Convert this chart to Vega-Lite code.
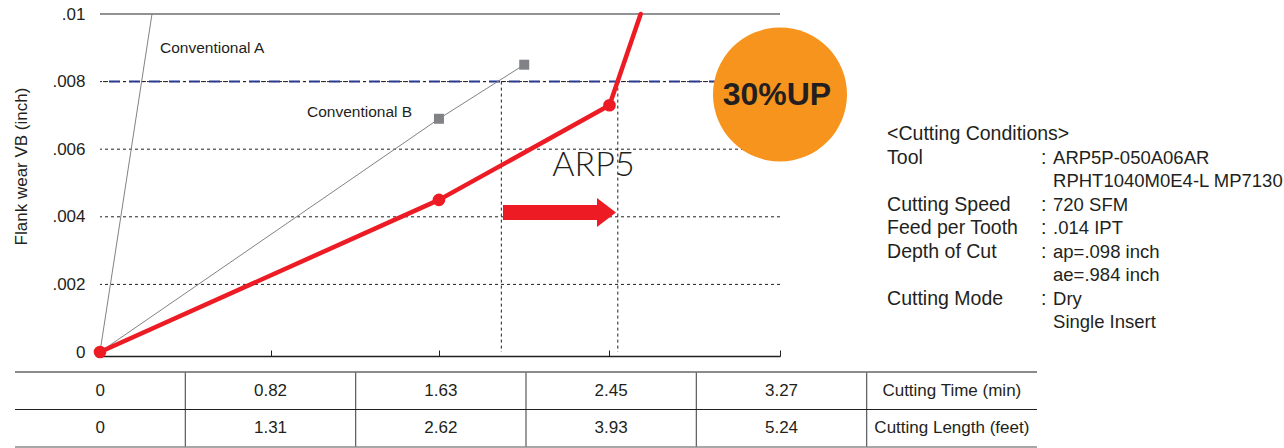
{
  "$schema": "https://vega.github.io/schema/vega-lite/v6.json",
  "width": 680,
  "height": 338,
  "autosize": {"type": "none"},
  "padding": {"left": 100, "top": 14, "right": 504, "bottom": 96},
  "background": "white",
  "config": {
    "view": {"stroke": null},
    "font": "Liberation Sans",
    "text": {"font": "Liberation Sans", "color": "#231f20"}
  },
  "datasets": {
    "wear": [
      {"tool": "Conventional A", "time": 0, "wear": 0, "point": "measured"},
      {"tool": "Conventional A", "time": 0.25, "wear": 0.01, "point": "chart edge"},
      {"tool": "Conventional B", "time": 0, "wear": 0, "point": "measured"},
      {"tool": "Conventional B", "time": 1.63, "wear": 0.0069, "point": "measured"},
      {"tool": "Conventional B", "time": 2.04, "wear": 0.0085, "point": "measured"},
      {"tool": "ARP5", "time": 0, "wear": 0, "point": "measured"},
      {"tool": "ARP5", "time": 1.63, "wear": 0.0045, "point": "measured"},
      {"tool": "ARP5", "time": 2.45, "wear": 0.0073, "point": "measured"},
      {"tool": "ARP5", "time": 2.6, "wear": 0.01, "point": "chart edge"}
    ],
    "levels": [{"wear": 0.002}, {"wear": 0.004}, {"wear": 0.006}, {"wear": 0.008}],
    "limit": [
      {"tool": "Conventional B", "time": 1.93, "wear": 0.008},
      {"tool": "ARP5", "time": 2.49, "wear": 0.008}
    ],
    "conditions": [
      {"line": 1, "label": "<Cutting Conditions>", "value": ""},
      {"line": 2, "label": "Tool", "value": "ARP5P-050A06AR"},
      {"line": 3, "label": "", "value": "RPHT1040M0E4-L MP7130"},
      {"line": 4, "label": "Cutting Speed", "value": "720 SFM"},
      {"line": 5, "label": "Feed per Tooth", "value": ".014 IPT"},
      {"line": 6, "label": "Depth of Cut", "value": "ap=.098 inch"},
      {"line": 7, "label": "", "value": "ae=.984 inch"},
      {"line": 8, "label": "Cutting Mode", "value": "Dry"},
      {"line": 9, "label": "", "value": "Single Insert"}
    ],
    "table": [
      {"measure": "Cutting Time (min)", "col": 0, "text": "0"},
      {"measure": "Cutting Time (min)", "col": 1, "text": "0.82"},
      {"measure": "Cutting Time (min)", "col": 2, "text": "1.63"},
      {"measure": "Cutting Time (min)", "col": 3, "text": "2.45"},
      {"measure": "Cutting Time (min)", "col": 4, "text": "3.27"},
      {"measure": "Cutting Time (min)", "col": 5, "text": "Cutting Time (min)"},
      {"measure": "Cutting Length (feet)", "col": 0, "text": "0"},
      {"measure": "Cutting Length (feet)", "col": 1, "text": "1.31"},
      {"measure": "Cutting Length (feet)", "col": 2, "text": "2.62"},
      {"measure": "Cutting Length (feet)", "col": 3, "text": "3.93"},
      {"measure": "Cutting Length (feet)", "col": 4, "text": "5.24"},
      {"measure": "Cutting Length (feet)", "col": 5, "text": "Cutting Length (feet)"}
    ]
  },
  "layer": [
    {
      "data": {"name": "levels"},
      "mark": {"type": "rule", "color": "#231f20", "strokeWidth": 1, "strokeDash": [3, 3]},
      "encoding": {
        "y": {"field": "wear", "type": "quantitative", "scale": {"domain": [0, 0.01], "nice": false, "zero": false},
          "axis": {
            "values": [0, 0.002, 0.004, 0.006, 0.008, 0.01],
            "labelExpr": "datum.value == 0 ? '0' : replace(format(datum.value, '.3~f'), '0.', '.')",
            "domain": false, "ticks": false, "grid": false,
            "labelPadding": 15, "labelFontSize": 17, "labelFont": "Liberation Sans", "labelColor": "#231f20",
            "labelFlush": false, "labelOverlap": false,
            "title": "Flank wear VB (inch)", "titleFontSize": 17, "titleFontWeight": "normal",
            "titleFont": "Liberation Sans", "titleColor": "#231f20", "titleAngle": -90,
            "titleX": -79, "titleY": 152, "titleAlign": "center", "titleBaseline": "middle"
          }
        }
      }
    },
    {
      "data": {"name": "limit"},
      "mark": {"type": "rule", "color": "#231f20", "strokeWidth": 1, "strokeDash": [3, 3]},
      "encoding": {
        "x": {"field": "time", "type": "quantitative", "scale": {"domain": [0, 3.27], "nice": false, "zero": false},
          "axis": {
            "values": [0.82, 1.63, 2.45, 3.27], "labels": false, "ticks": true, "tickSize": -6,
            "tickColor": "#231f20", "domainColor": "#231f20", "domainWidth": 1.5, "tickWidth": 1,
            "grid": false, "title": null, "offset": 4
          }
        },
        "y": {"field": "wear", "type": "quantitative", "axis": null, "scale": {"domain": [0, 0.01], "nice": false, "zero": false}},
        "y2": {"datum": 0}
      }
    },
    {
      "data": {"values": [{"wear": 0.008}]},
      "mark": {"type": "rule", "color": "#2b3990", "strokeWidth": 2, "strokeDash": [11, 9]},
      "encoding": {"y": {"field": "wear", "type": "quantitative", "axis": null, "scale": {"domain": [0, 0.01], "nice": false, "zero": false}}}
    },
    {
      "data": {"values": [{"wear": 0.008}]},
      "mark": {"type": "rule", "color": "#231f20", "strokeWidth": 1, "strokeDash": [3, 17], "strokeDashOffset": 6},
      "encoding": {"y": {"field": "wear", "type": "quantitative", "axis": null, "scale": {"domain": [0, 0.01], "nice": false, "zero": false}}}
    },
    {
      "data": {"values": [{"wear": 0.01}]},
      "mark": {"type": "rule", "color": "#6d6e71", "strokeWidth": 1.5},
      "encoding": {"y": {"field": "wear", "type": "quantitative", "axis": null, "scale": {"domain": [0, 0.01], "nice": false, "zero": false}}}
    },
    {
      "data": {"name": "wear"},
      "transform": [{"filter": "datum.tool != 'ARP5'"}],
      "mark": {"type": "line", "color": "#808285", "strokeWidth": 1},
      "encoding": {
        "x": {"field": "time", "type": "quantitative", "axis": null, "scale": {"domain": [0, 3.27], "nice": false, "zero": false}},
        "y": {"field": "wear", "type": "quantitative", "axis": null, "scale": {"domain": [0, 0.01], "nice": false, "zero": false}},
        "detail": {"field": "tool"}
      }
    },
    {
      "data": {"name": "wear"},
      "transform": [{"filter": "datum.tool == 'Conventional B' && datum.time > 0"}],
      "mark": {"type": "point", "shape": "square", "filled": true, "size": 100, "color": "#808285", "opacity": 1},
      "encoding": {
        "x": {"field": "time", "type": "quantitative", "axis": null, "scale": {"domain": [0, 3.27], "nice": false, "zero": false}},
        "y": {"field": "wear", "type": "quantitative", "axis": null, "scale": {"domain": [0, 0.01], "nice": false, "zero": false}}
      }
    },
    {
      "data": {"name": "wear"},
      "transform": [{"filter": "datum.tool == 'ARP5'"}],
      "mark": {"type": "line", "color": "#ed1c24", "strokeWidth": 4.5, "strokeJoin": "round", "strokeCap": "round"},
      "encoding": {
        "x": {"field": "time", "type": "quantitative", "axis": null, "scale": {"domain": [0, 3.27], "nice": false, "zero": false}},
        "y": {"field": "wear", "type": "quantitative", "axis": null, "scale": {"domain": [0, 0.01], "nice": false, "zero": false}}
      }
    },
    {
      "data": {"name": "wear"},
      "transform": [{"filter": "datum.tool == 'ARP5' && datum.point == 'measured'"}],
      "mark": {"type": "point", "shape": "circle", "filled": true, "size": 160, "color": "#ed1c24", "opacity": 1},
      "encoding": {
        "x": {"field": "time", "type": "quantitative", "axis": null, "scale": {"domain": [0, 3.27], "nice": false, "zero": false}},
        "y": {"field": "wear", "type": "quantitative", "axis": null, "scale": {"domain": [0, 0.01], "nice": false, "zero": false}}
      }
    },
    {
      "data": {"values": [{}]},
      "mark": {"type": "text", "text": "Conventional A", "align": "left", "baseline": "middle", "fontSize": 15.5},
      "encoding": {
        "x": {"datum": 0.2885, "type": "quantitative", "axis": null, "scale": {"domain": [0, 3.27], "nice": false, "zero": false}},
        "y": {"datum": 0.00899, "type": "quantitative", "axis": null, "scale": {"domain": [0, 0.01], "nice": false, "zero": false}}
      }
    },
    {
      "data": {"values": [{}]},
      "mark": {"type": "text", "text": "Conventional B", "align": "left", "baseline": "middle", "fontSize": 15.5},
      "encoding": {
        "x": {"datum": 0.9954, "type": "quantitative", "axis": null, "scale": {"domain": [0, 3.27], "nice": false, "zero": false}},
        "y": {"datum": 0.0071, "type": "quantitative", "axis": null, "scale": {"domain": [0, 0.01], "nice": false, "zero": false}}
      }
    },
    {
      "data": {"values": [{}]},
      "mark": {"type": "point", "shape": "circle", "filled": true, "size": 17956, "color": "#f7941d", "opacity": 1},
      "encoding": {
        "x": {"datum": 3.27, "type": "quantitative", "axis": null, "scale": {"domain": [0, 3.27], "nice": false, "zero": false}},
        "y": {"datum": 0.00762, "type": "quantitative", "axis": null, "scale": {"domain": [0, 0.01], "nice": false, "zero": false}}
      }
    },
    {
      "data": {"values": [{}]},
      "mark": {"type": "text", "text": "30%UP", "align": "center", "baseline": "middle", "fontSize": 32, "fontWeight": "bold", "color": "#231f20"},
      "encoding": {
        "x": {"datum": 3.255, "type": "quantitative", "axis": null, "scale": {"domain": [0, 3.27], "nice": false, "zero": false}},
        "y": {"datum": 0.0076, "type": "quantitative", "axis": null, "scale": {"domain": [0, 0.01], "nice": false, "zero": false}}
      }
    },
    {
      "data": {"values": [{}]},
      "mark": {"type": "text", "text": "ARP5", "align": "center", "baseline": "middle", "fontSize": 34, "font": "Lato", "fontWeight": 300, "color": "#231f20"},
      "encoding": {
        "x": {"datum": 2.373, "type": "quantitative", "axis": null, "scale": {"domain": [0, 3.27], "nice": false, "zero": false}},
        "y": {"datum": 0.0055, "type": "quantitative", "axis": null, "scale": {"domain": [0, 0.01], "nice": false, "zero": false}}
      }
    },
    {
      "data": {"values": [{}]},
      "mark": {"type": "point", "shape": "M-1,-0.133L0.664,-0.133L0.664,-0.257L1,0L0.664,0.257L0.664,0.133L-1,0.133Z", "filled": true, "size": 12769, "color": "#ed1c24", "opacity": 1, "strokeWidth": 0},
      "encoding": {
        "x": {"datum": 2.2096, "type": "quantitative", "axis": null, "scale": {"domain": [0, 3.27], "nice": false, "zero": false}},
        "y": {"datum": 0.004127, "type": "quantitative", "axis": null, "scale": {"domain": [0, 0.01], "nice": false, "zero": false}}
      }
    },
    {
      "data": {"name": "conditions"},
      "transform": [{"filter": "datum.label != ''"}],
      "mark": {"type": "text", "align": "left", "baseline": "middle", "fontSize": 19.5},
      "encoding": {
        "x": {"datum": 3.785, "type": "quantitative", "axis": null, "scale": {"domain": [0, 3.27], "nice": false, "zero": false}},
        "y": {"field": "line", "type": "ordinal", "axis": null, "scale": {"type": "point", "domain": [1, 2, 3, 4, 5, 6, 7, 8, 9], "range": [120, 308], "padding": 0}},
        "text": {"field": "label"}
      }
    },
    {
      "data": {"name": "conditions"},
      "transform": [{"filter": "datum.label != '' && datum.value != ''"}],
      "mark": {"type": "text", "align": "left", "baseline": "middle", "fontSize": 19.5, "text": ":"},
      "encoding": {
        "x": {"datum": 4.525, "type": "quantitative", "axis": null, "scale": {"domain": [0, 3.27], "nice": false, "zero": false}},
        "y": {"field": "line", "type": "ordinal", "axis": null, "scale": {"type": "point", "domain": [1, 2, 3, 4, 5, 6, 7, 8, 9], "range": [120, 308], "padding": 0}}
      }
    },
    {
      "data": {"name": "conditions"},
      "transform": [{"filter": "datum.value != ''"}],
      "mark": {"type": "text", "align": "left", "baseline": "middle", "fontSize": 18.5},
      "encoding": {
        "x": {"datum": 4.583, "type": "quantitative", "axis": null, "scale": {"domain": [0, 3.27], "nice": false, "zero": false}},
        "y": {"field": "line", "type": "ordinal", "axis": null, "scale": {"type": "point", "domain": [1, 2, 3, 4, 5, 6, 7, 8, 9], "range": [120, 308], "padding": 0}},
        "text": {"field": "value"}
      }
    },
    {
      "data": {"name": "table"},
      "transform": [{"filter": "datum.measure == 'Cutting Time (min)' && datum.col < 5"}],
      "mark": {"type": "rule", "color": "#58595b", "strokeWidth": 1.2},
      "encoding": {
        "x": {"field": "col", "type": "ordinal", "bandPosition": 1, "axis": null,
          "scale": {"type": "band", "domain": [0, 1, 2, 3, 4, 5], "range": [-85, 937], "paddingInner": 0, "paddingOuter": 0}},
        "y": {"datum": "Cutting Time (min)", "type": "nominal", "bandPosition": 0, "axis": null,
          "scale": {"type": "band", "domain": ["Cutting Time (min)", "Cutting Length (feet)"], "range": [358, 433], "paddingInner": 0, "paddingOuter": 0}},
        "y2": {"datum": "Cutting Length (feet)", "bandPosition": 1}
      }
    },
    {
      "data": {"name": "table"},
      "transform": [{"filter": "datum.col == 5"}],
      "mark": {"type": "rule", "color": "#231f20", "strokeWidth": 1},
      "encoding": {
        "y": {"field": "measure", "type": "nominal", "bandPosition": 0, "axis": null,
          "scale": {"type": "band", "domain": ["Cutting Time (min)", "Cutting Length (feet)"], "range": [358, 433], "paddingInner": 0, "paddingOuter": 0}},
        "x": {"datum": 0, "type": "ordinal", "bandPosition": 0, "axis": null,
          "scale": {"type": "band", "domain": [0, 1, 2, 3, 4, 5], "range": [-85, 937], "paddingInner": 0, "paddingOuter": 0}},
        "x2": {"datum": 5, "bandPosition": 1}
      }
    },
    {
      "data": {"name": "table"},
      "transform": [{"filter": "datum.measure == 'Cutting Time (min)' && datum.col == 5"}],
      "mark": {"type": "rule", "color": "#8a8a8a", "strokeWidth": 1.5},
      "encoding": {
        "y": {"field": "measure", "type": "nominal", "bandPosition": 0, "axis": null,
          "scale": {"type": "band", "domain": ["Cutting Time (min)", "Cutting Length (feet)"], "range": [358, 433], "paddingInner": 0, "paddingOuter": 0}},
        "x": {"datum": 0, "type": "ordinal", "bandPosition": 0, "axis": null,
          "scale": {"type": "band", "domain": [0, 1, 2, 3, 4, 5], "range": [-85, 937], "paddingInner": 0, "paddingOuter": 0}},
        "x2": {"datum": 5, "bandPosition": 1}
      }
    },
    {
      "data": {"name": "table"},
      "transform": [{"filter": "datum.measure == 'Cutting Length (feet)' && datum.col == 5"}],
      "mark": {"type": "rule", "color": "#8a8a8a", "strokeWidth": 1.5},
      "encoding": {
        "y": {"field": "measure", "type": "nominal", "bandPosition": 1, "axis": null,
          "scale": {"type": "band", "domain": ["Cutting Time (min)", "Cutting Length (feet)"], "range": [358, 433], "paddingInner": 0, "paddingOuter": 0}},
        "x": {"datum": 0, "type": "ordinal", "bandPosition": 0, "axis": null,
          "scale": {"type": "band", "domain": [0, 1, 2, 3, 4, 5], "range": [-85, 937], "paddingInner": 0, "paddingOuter": 0}},
        "x2": {"datum": 5, "bandPosition": 1}
      }
    },
    {
      "data": {"name": "table"},
      "mark": {"type": "text", "align": "center", "baseline": "middle", "fontSize": 17, "color": "#231f20"},
      "encoding": {
        "x": {"field": "col", "type": "ordinal", "axis": null,
          "scale": {"type": "band", "domain": [0, 1, 2, 3, 4, 5], "range": [-85, 937], "paddingInner": 0, "paddingOuter": 0}},
        "y": {"field": "measure", "type": "nominal", "axis": null,
          "scale": {"type": "band", "domain": ["Cutting Time (min)", "Cutting Length (feet)"], "range": [358, 433], "paddingInner": 0, "paddingOuter": 0}},
        "text": {"field": "text"}
      }
    }
  ],
  "resolve": {"scale": {"x": "independent", "y": "independent"}}
}
